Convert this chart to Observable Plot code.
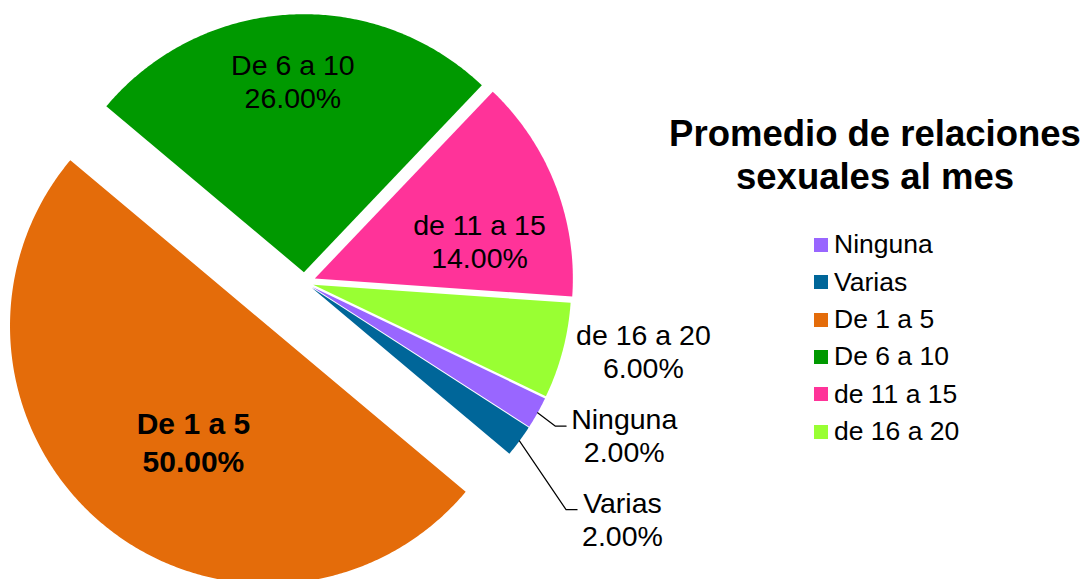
<!DOCTYPE html>
<html>
<head>
<meta charset="utf-8">
<script src="https://cdn.jsdelivr.net/npm/d3@7"></script>
<script src="https://cdn.jsdelivr.net/npm/@observablehq/plot@0.6"></script>
<style>
  html, body { margin: 0; padding: 0; background: #fff; }
  body { width: 1091px; height: 579px; position: relative; overflow: hidden; font-family: "Liberation Sans", Arial, sans-serif; }
  #chart { position: absolute; left: 0; top: 0; }
  #title { position: absolute; left: 655px; width: 440px; top: 112px; text-align: center; font-weight: bold; font-size: 36.5px; line-height: 43.3px; color: #000; }
  .lg { position: absolute; left: 814px; height: 37.3px; line-height: 37.3px; font-size: 26.5px; color: #000; white-space: nowrap; }
  .lg .sw { position: absolute; left: 0; top: 11.65px; width: 14px; height: 14px; }
  .lg .tx { position: absolute; left: 20px; top: 0; }
</style>
</head>
<body>
<div id="chart"></div>
<div id="title"></div>
<div id="legend"></div>
<script>
// ---- data ----
const categories = ["Ninguna", "Varias", "De 1 a 5", "De 6 a 10", "de 11 a 15", "de 16 a 20"];
const values = [2, 2, 50, 26, 14, 6];
const colors = ["#9966FF", "#006699", "#E46C0A", "#009900", "#FF3399", "#99FF33"];
const titleLines = ["Promedio de relaciones", "sexuales al mes"];

// ---- layout ----
const W = 1091, H = 579, CX = 304, CY = 282, R = 258, START = 115.6;
const explode = {"Ninguna": 0.035, "Varias": 0.035, "De 1 a 5": 0.22, "De 6 a 10": 0.04, "de 11 a 15": 0.043, "de 16 a 20": 0.035};
const labelLayout = {
  "Ninguna":    {angle: 115.4, r: 1.338, leader: true},
  "Varias":     {angle: 126.6, r: 1.50,  leader: true},
  "De 1 a 5":   {angle: 213,   r: 0.531, bold: true},
  "De 6 a 10":  {angle: 356.7, r: 0.744},
  "de 11 a 15": {angle: 77,    r: 0.655},
  "de 16 a 20": {angle: 101.3, r: 1.305}
};
const FS = 28.5, LH = 1.16, FSB = 30, LHB = 1.27;
const FONT = '"Liberation Sans", Arial, sans-serif';

const rad = d => d * Math.PI / 180;
const polar = (cx, cy, a, r) => [cx + r * Math.sin(a), cy + r * Math.cos(a)];
const total = d3.sum(values);
const fmt = d3.format(".2%");

const rows = categories.map((c, i) => ({name: c, value: values[i]}));
const arcs = d3.pie().value(d => d.value).sort(null)
  .startAngle(rad(START)).endAngle(rad(START + 360))(rows);

const canvas = document.createElement("canvas");
const ctx = canvas.getContext("2d");
function textW(t, fs, bold) { ctx.font = (bold ? "bold " : "") + fs + "px " + FONT; return ctx.measureText(t).width; }

const outline = [];
const labels = [];
const leaders = [];
arcs.forEach(a => {
  const name = a.data.name;
  const mid = (a.startAngle + a.endAngle) / 2;
  const [ox, oy] = polar(0, 0, mid, explode[name]);
  outline.push({name, x: ox, y: oy});
  const n = Math.max(6, Math.ceil((a.endAngle - a.startAngle) / rad(0.5)));
  for (let k = 0; k <= n; k++) {
    const ang = a.startAngle + (a.endAngle - a.startAngle) * k / n;
    const [px, py] = polar(ox, oy, ang, 1);
    outline.push({name, x: px, y: py});
  }
  outline.push({name, x: ox, y: oy});

  const L = labelLayout[name];
  const [lx, ly] = polar(ox, oy, rad(L.angle), L.r);
  const text = name + "\n" + fmt(a.data.value / total);
  labels.push({name, x: lx, y: ly, text, bold: !!L.bold});
  if (L.leader) {
    const fs = FS, lh = LH;
    const wmax = Math.max(textW(name, fs), textW(fmt(a.data.value / total), fs));
    const endX = lx - (wmax / 2 + 5) / R;
    const endY = ly + (lh * fs / 2 - 0.32 * fs + 1.5) / R;
    const [sx, sy] = polar(ox, oy, mid, 1);
    leaders.push({name, x: sx, y: sy});
    leaders.push({name, x: endX - 11 / R, y: endY});
    leaders.push({name, x: endX, y: endY});
  }
});

const chart = Plot.plot({
  width: W, height: H, margin: 0,
  x: {domain: [-CX / R, (W - CX) / R], axis: null},
  y: {domain: [-(H - CY) / R, CY / R], axis: null},
  color: {domain: categories, range: colors},
  style: {fontFamily: FONT, background: "white"},
  marks: [
    Plot.line(outline, {x: "x", y: "y", z: "name", fill: "name", stroke: "none", curve: "linear"}),
    Plot.line(leaders, {x: "x", y: "y", z: "name", stroke: "black", strokeWidth: 1.2}),
    Plot.text(labels.filter(d => !d.bold), {x: "x", y: "y", text: "text", fontSize: FS, lineHeight: LH, fill: "black", textAnchor: "middle", lineAnchor: "middle", fontFamily: FONT}),
    Plot.text(labels.filter(d => d.bold), {x: "x", y: "y", text: "text", fontSize: FSB, lineHeight: LHB, fontWeight: "bold", fill: "black", textAnchor: "middle", lineAnchor: "middle", fontFamily: FONT})
  ]
});
document.getElementById("chart").appendChild(chart);

// title
document.getElementById("title").innerHTML = titleLines.map(t => "<div>" + t + "</div>").join("");

// legend
const legend = document.getElementById("legend");
categories.forEach((c, i) => {
  const row = document.createElement("div");
  row.className = "lg";
  row.style.top = (226.3 + i * 37.35) + "px";
  row.innerHTML = '<span class="sw" style="background:' + colors[i] + '"></span><span class="tx">' + c + '</span>';
  legend.appendChild(row);
});
</script>
</body>
</html>
